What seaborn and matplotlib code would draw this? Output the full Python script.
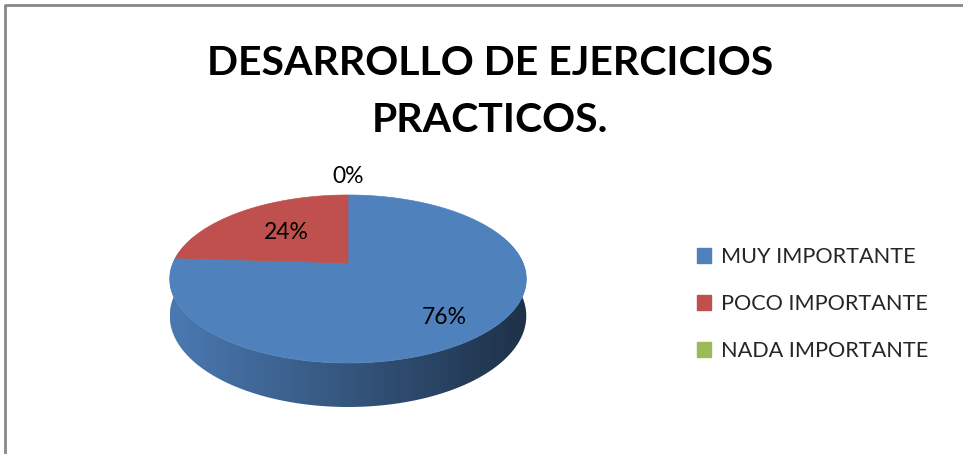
import numpy as np
import matplotlib
matplotlib.use("Agg")
import matplotlib.pyplot as plt
from matplotlib.patches import Polygon, Patch
from matplotlib.colors import to_rgb
import seaborn as sns

# ---- data ----
categories = ["MUY IMPORTANTE", "POCO IMPORTANTE", "NADA IMPORTANTE"]
values = [76, 24, 0]
value_labels = ["76%", "24%", "0%"]
title_lines = ["DESARROLLO DE EJERCICIOS", "PRACTICOS."]

sns.set_theme(style="white")
plt.rcParams['font.family'] = ['Lato', 'DejaVu Sans']
colors = ["#4F81BD", "#C0504D", "#9BBB59"]

fig = plt.figure(figsize=(9.63, 4.54), dpi=100)
ax = fig.add_axes([0, 0, 1, 1])
ax.set_xlim(0, 963)
ax.set_ylim(454, 0)
ax.axis('off')

# perspective pie geometry (pixel space)
CX, R = 348.0, 175.0
PA, PB, PC = -30.86, 263.0, 0.1905
D0 = 35.6
XL, XR = 170.0, 527.0


def proj(r, th):
    u = r * np.cos(th)
    v = r * np.sin(th)
    w = 1 + PC * v
    return CX + R * u / w, (PA * v + PB) / w, D0 / w


fr = np.array(values, dtype=float) / sum(values)
cum = np.concatenate([[0], np.cumsum(fr)])
starts = np.deg2rad(90 - 360 * cum[:-1])
ends = np.deg2rad(90 - 360 * cum[1:])

# side walls with horizontal shading gradient
gx = np.linspace(0, 1, 256)
for i in range(len(values)):
    if fr[i] <= 0:
        continue
    th = np.linspace(ends[i], starts[i], 400)
    th = th[np.sin(th) < 0.35]
    if len(th) < 2:
        continue
    xs, ys, ds = proj(1, th)
    pts = list(zip(xs, ys)) + list(zip(xs[::-1], (ys + ds)[::-1]))
    poly = Polygon(pts, closed=True, facecolor='none', edgecolor='none')
    ax.add_patch(poly)
    base = np.array(to_rgb(colors[i]))
    fac = 0.94 - 0.56 * gx
    img = np.clip(base[None, :] * fac[:, None], 0, 1)[None, :, :]
    im = ax.imshow(img, extent=[XL, XR, 460, 0], aspect='auto',
                   interpolation='bilinear', zorder=2)
    im.set_clip_path(poly)

# top faces
for i in range(len(values)):
    if fr[i] <= 0:
        continue
    th = np.linspace(starts[i], ends[i], 300)
    xs, ys, _ = proj(1, th)
    cx, cy, _ = proj(0, 0.0)
    pts = [(cx, cy)] + list(zip(xs, ys))
    ax.add_patch(Polygon(pts, closed=True, facecolor=colors[i],
                         edgecolor=colors[i], lw=0.5, zorder=5))

ax.set_xlim(0, 963)
ax.set_ylim(454, 0)

# value labels
label_r = [0.72, 0.55, 1.35]
label_dy = [7, 0, 0]
for i in range(len(values)):
    mid = 0.5 * (starts[i] + ends[i])
    x, y, _ = proj(label_r[i], mid)
    ax.text(x, y + label_dy[i], value_labels[i], ha='center', va='center',
            fontsize=16.5, color='black', zorder=10)

# title
ax.text(490, 75, title_lines[0], ha='center', va='baseline', fontsize=29.5,
        fontweight='bold', color='black')
ax.text(490, 132, title_lines[1], ha='center', va='baseline', fontsize=29.5,
        fontweight='bold', color='black')

# legend
handles = [Patch(facecolor=c, edgecolor=c) for c in colors]
fig.legend(handles, categories, loc='center left',
           bbox_to_anchor=(677 / 963, 1 - 304 / 454), frameon=False,
           fontsize=15.6, handlelength=0.66, handleheight=0.66,
           handletextpad=0.48, labelspacing=1.24)

# chart area border
ax.plot([5, 5, 963], [454, 5, 5], color='#888888', lw=2, zorder=20,
        solid_capstyle='butt')

fig.savefig("out.png", dpi=100)
